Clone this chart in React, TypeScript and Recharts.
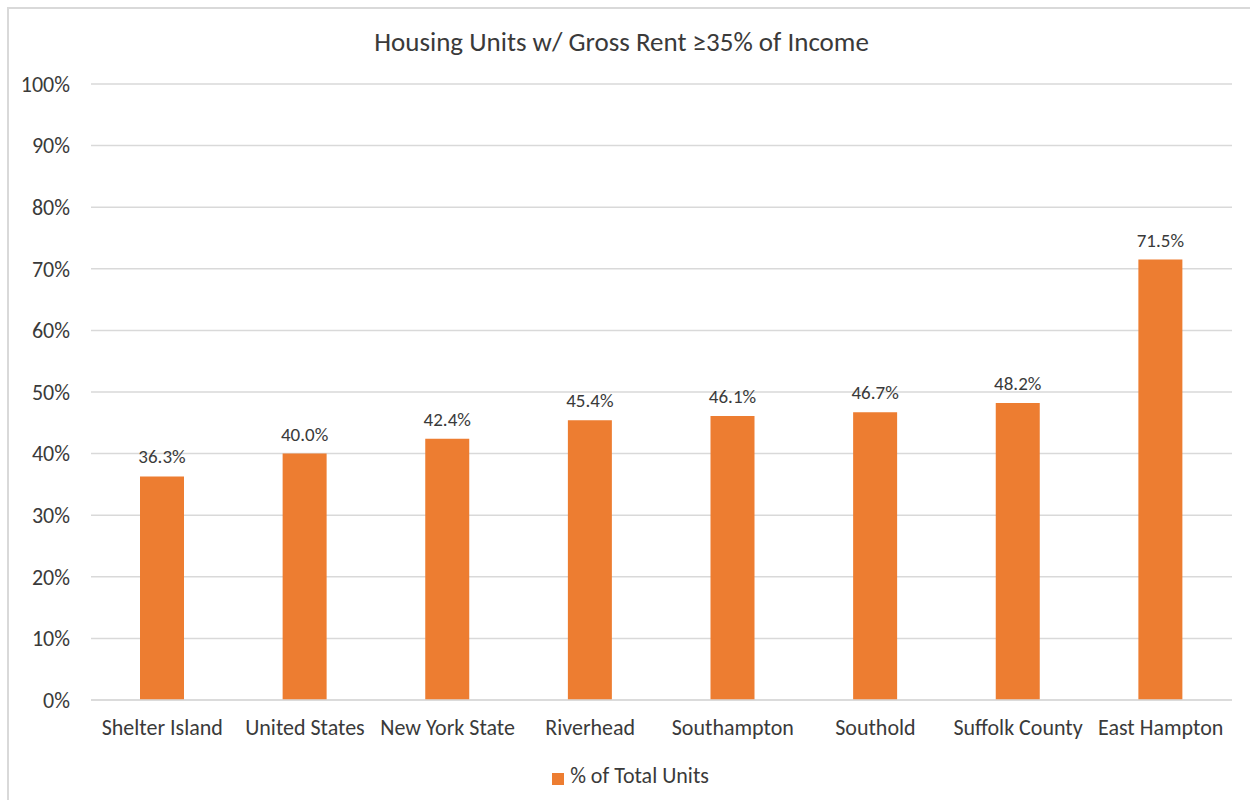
import React from 'react';
import { BarChart, Bar, XAxis, YAxis, CartesianGrid, Legend, LabelList } from 'recharts';

const places = [
  'Shelter Island',
  'United States',
  'New York State',
  'Riverhead',
  'Southampton',
  'Southold',
  'Suffolk County',
  'East Hampton',
];
const shareOfUnits = [36.3, 40.0, 42.4, 45.4, 46.1, 46.7, 48.2, 71.5];
const yTicks = [0, 10, 20, 30, 40, 50, 60, 70, 80, 90, 100];

const data = places.map((place, i) => ({ place, share: shareOfUnits[i] }));

const FONT = 'Calibri, Carlito, Lato, "Open Sans", sans-serif';
const TEXT = '#3a3a3a';
const GRID = '#d9d9d9';
const ORANGE = '#ED7D31';

export default function App() {
  return (
    <div
      style={{
        position: 'fixed',
        left: 0,
        top: 0,
        width: 1250,
        height: 800,
        overflow: 'hidden',
        background: '#fff',
        fontFamily: FONT,
      }}
    >
      <div
        style={{
          position: 'absolute',
          left: 7,
          top: 7,
          width: 1260,
          height: 810,
          borderLeft: `2px solid ${GRID}`,
          borderTop: `2px solid ${GRID}`,
          boxSizing: 'border-box',
        }}
      />
      <div
        style={{
          position: 'absolute',
          left: 0,
          width: 1243,
          top: 24,
          textAlign: 'center',
          fontSize: 27,
          color: TEXT,
          lineHeight: '36px',
        }}
      >
        Housing Units w/ Gross Rent ≥35% of Income
      </div>
      <div style={{ position: 'absolute', left: 0, top: 0 }}>
        <BarChart
          width={1250}
          height={800}
          data={data}
          margin={{ top: 84, right: 18, bottom: 12, left: 0 }}
        >
          <CartesianGrid vertical={false} stroke={GRID} strokeWidth={1.5} />
          <XAxis
            dataKey="place"
            axisLine={{ stroke: GRID, strokeWidth: 1.5 }}
            tickLine={false}
            tickSize={0}
            tickMargin={19}
            height={62}
            interval={0}
            tick={{ fill: TEXT, fontSize: 22, fontFamily: FONT }}
          />
          <YAxis
            domain={[0, 100]}
            ticks={yTicks}
            tickFormatter={(v: number) => `${v}%`}
            axisLine={false}
            tickLine={false}
            tickSize={0}
            tickMargin={21}
            width={91}
            tick={{ fill: TEXT, fontSize: 22, fontFamily: FONT }}
          />
          <Legend
            verticalAlign="bottom"
            align="center"
            iconType="square"
            iconSize={12}
            height={26}
            wrapperStyle={{ paddingLeft: 39, boxSizing: 'border-box' }}
            formatter={(value: string) => (
              <span style={{ color: TEXT, fontSize: 22, fontFamily: FONT, marginLeft: 2 }}>{value}</span>
            )}
          />
          <Bar
            dataKey="share"
            name="% of Total Units"
            fill={ORANGE}
            barSize={44}
            isAnimationActive={false}
          >
            <LabelList
              dataKey="share"
              position="top"
              offset={13}
              formatter={(v: number) => `${v.toFixed(1)}%`}
              style={{ fill: TEXT, fontSize: 19, fontFamily: FONT }}
            />
          </Bar>
        </BarChart>
      </div>
    </div>
  );
}
